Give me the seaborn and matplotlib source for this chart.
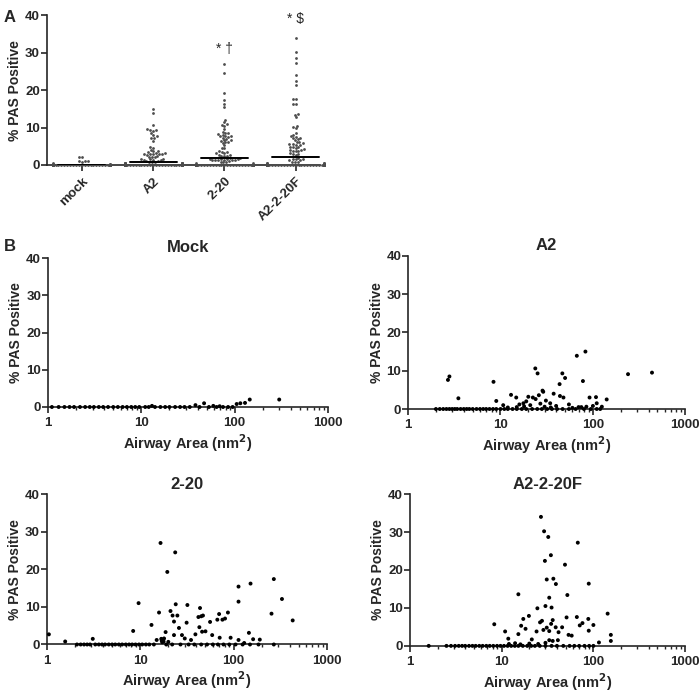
import warnings
import numpy as np
import pandas as pd
import matplotlib
matplotlib.use("Agg")
import matplotlib.pyplot as plt
from matplotlib.ticker import LogLocator, FixedLocator, NullFormatter
import seaborn as sns

warnings.filterwarnings("ignore")

# ---- data ----
groups = ["mock", "A2", "2-20", "A2-2-20F"]
titles = ["Mock", "A2", "2-20", "A2-2-20F"]
medians = [0.1, 0.8, 1.8, 2.1]

mock_area = [13, 38, 47, 59, 69, 105, 115, 129, 145, 300]
mock_pas = [0.3, 0.5, 1.0, 0.3, 0.2, 0.8, 1.0, 1.1, 2.0, 2.0]
mock_zero_area = [1.1, 1.3, 1.5, 1.7, 1.9, 2.2, 2.5, 2.8, 3.1, 3.5, 3.9, 4.4, 5.0,
                  5.6, 6.3, 7.0, 7.8, 8.6, 9.5, 11, 12, 14, 16, 18, 20, 23, 26,
                  29, 33, 42, 53, 64, 75, 85, 95]

a2_area = [2.7, 2.8, 3.5, 8.4, 9, 10.7, 12, 13, 14.8, 15, 16, 17.7, 18, 19, 20, 21,
           22.4, 23.8, 24, 25.2, 26, 27, 28.5, 29, 30, 31, 34.5, 35, 37.6, 40, 43.6,
           44, 46.7, 48, 50, 55, 60, 67, 70, 75, 78, 83, 85, 92, 100, 108, 110, 125,
           141, 240, 436]
a2_pas = [7.6, 8.5, 2.8, 7.1, 2.1, 1.0, 0.4, 3.7, 3.0, 0.5, 1.2, 1.5, 0.7, 2.0, 3.2, 1.0,
          3.0, 10.6, 2.6, 9.3, 3.6, 1.4, 4.8, 4.5, 0.6, 2.2, 1.5, 0.4, 4.0, 0.8, 6.5,
          3.4, 9.3, 3.0, 8.1, 1.2, 0.3, 13.9, 0.5, 0.5, 7.3, 15.0, 0.6, 3.0, 0.8, 3.1,
          1.5, 0.6, 2.5, 9.1, 9.5]
a2_zero_area = [2.0, 2.2, 2.4, 2.6, 2.8, 3.0, 3.2, 3.4, 3.7, 4.0, 4.3, 4.6, 5.0, 5.5,
                6.0, 6.5, 7.0, 7.6, 8.3, 9.0, 10, 11, 12, 13.5, 15, 17, 19, 22, 25,
                28, 32, 36, 41, 47, 55, 65, 80, 95, 110, 120]

s220_area = [1.05, 1.57, 3.1, 8.4, 9.6, 13.2, 15, 15.9, 16.5, 16.8, 17, 17.2, 17.5,
             17.8, 18, 18.7, 19.5, 20, 21.1, 22.2, 23, 23, 23.7, 24, 25, 26, 28, 30,
             31.4, 32, 35, 39, 42, 43, 43.7, 45, 46, 47, 50, 56, 59, 67, 70, 71, 76,
             81, 87, 93, 113, 113, 113, 130, 146, 152, 162, 191, 255, 270, 330, 430]
s220_pas = [2.7, 0.8, 1.5, 3.6, 11.0, 5.2, 1.2, 8.5, 27.0, 1.5, 1.0, 0.6, 1.3, 0.8,
            1.6, 3.3, 19.3, 0.7, 8.9, 7.7, 6.1, 2.5, 24.5, 10.7, 7.7, 4.4, 2.5, 1.6,
            5.8, 10.5, 1.2, 2.7, 7.3, 4.6, 9.7, 7.5, 3.4, 7.7, 3.5, 6.0, 2.5, 6.6,
            8.1, 1.8, 6.6, 6.9, 8.5, 1.8, 15.4, 11.4, 1.2, 0.4, 3.1, 16.2, 1.4, 1.3,
            8.2, 17.4, 12.1, 6.4]
s220_zero_area = [2.1, 2.3, 2.5, 2.7, 2.9, 3.3, 3.6, 3.9, 4.2, 4.6, 5.0, 5.4, 5.9,
                  6.4, 7.0, 7.6, 8.2, 8.9, 9.7, 10.5, 11.5, 12.5, 14, 19, 22, 27,
                  33, 38, 45, 52, 60, 68, 78, 90, 105, 125, 150, 185, 270]

f_area = [26.8, 29, 32.2, 34.4, 29.6, 49, 67.6, 31, 36.6, 39, 89, 15.2, 33, 52, 24.5,
          30, 35, 8.3, 10.9, 11.8, 15.2, 16.3, 17.2, 18.2, 19.8, 21.3, 24, 26.2,
          27.5, 28.5, 31, 33, 34.6, 36, 33, 38.8, 41.7, 41, 45.6, 51, 53.6, 58, 66,
          71, 76, 88, 89, 100, 115, 143, 155, 155, 12, 14, 16, 20, 25, 36, 30]
f_pas = [34.0, 30.2, 28.7, 23.9, 22.4, 21.4, 27.2, 17.5, 17.7, 16.3, 16.4, 13.6, 12.7,
         13.4, 9.9, 10.5, 10.1, 5.7, 3.8, 1.9, 3.1, 5.3, 7.1, 4.5, 7.9, 1.7, 3.8, 6.2,
         6.6, 4.2, 4.8, 3.9, 5.8, 6.8, 1.5, 4.9, 3.6, 1.5, 4.9, 7.5, 2.9, 2.7, 7.6,
         5.4, 6.0, 7.1, 4.0, 5.5, 0.9, 8.5, 2.9, 1.3, 0.5, 0.7, 0.4, 0.6, 0.5, 1.3, 0.8]
f_zero_area = [1.6, 2.5, 2.8, 3.1, 3.4, 3.7, 4.0, 4.4, 4.8, 5.2, 5.7, 6.2, 6.8, 7.4,
               8.1, 8.9, 9.7, 10.6, 11.6, 12.7, 13.9, 15.2, 17, 19, 21, 23, 26, 30,
               35, 40, 47, 55, 62, 70, 80, 90, 100]

sig_labels = ["", "", "* \u2020", "* $"]
sig_y = [0, 0, 29, 37]

# ---- assemble tables ----
raw = {
    "mock": (mock_area, mock_pas, mock_zero_area),
    "A2": (a2_area, a2_pas, a2_zero_area),
    "2-20": (s220_area, s220_pas, s220_zero_area),
    "A2-2-20F": (f_area, f_pas, f_zero_area),
}
frames = []
for g in groups:
    area, pas, zeros = raw[g]
    d = pd.DataFrame({"area": list(area) + list(zeros),
                      "pas": list(pas) + [0.0] * len(zeros)})
    d["group"] = g
    frames.append(d)
df = pd.concat(frames, ignore_index=True)

sns.set_style("ticks")
plt.rcParams["font.family"] = ["Liberation Sans", "DejaVu Sans"]
plt.rcParams["font.weight"] = "bold"
plt.rcParams["axes.labelweight"] = "bold"
plt.rcParams["axes.linewidth"] = 1.2

fig = plt.figure(figsize=(7, 6.93), dpi=100)

tick_fs = 9.5
lab_fs = 10.5


def style_y(ax):
    ax.set_ylim(0, 40)
    ax.set_yticks([0, 10, 20, 30, 40])
    ax.tick_params(axis="y", labelsize=tick_fs, width=1.2, length=4, pad=1)
    ax.set_ylabel("% PAS Positive", fontsize=10, labelpad=2)
    for lab in ax.get_yticklabels():
        lab.set_fontweight("bold")
    sns.despine(ax=ax)


# ---- panel A ----
axA = fig.add_axes([0.067, 0.762, 0.39, 0.216])
sns.swarmplot(data=df, x="group", y="pas", order=groups, color="0.3",
              size=2.0, ax=axA, clip_on=False, zorder=3)
for i, m in enumerate(medians):
    axA.plot([i - 0.33, i + 0.33], [m, m], color="black", lw=1.4, zorder=4)
for i, (t, yv) in enumerate(zip(sig_labels, sig_y)):
    if t:
        axA.text(i, yv, t, ha="center", va="bottom", fontsize=10, fontweight="normal")
axA.set_xlim(-0.49, 3.34)
axA.set_xlabel("")
style_y(axA)
axA.tick_params(axis="x", labelsize=tick_fs, width=1.2, length=4)
axA.set_xticks(range(len(groups)))
axA.set_xticklabels(groups, rotation=45, ha="right", rotation_mode="anchor",
                    fontweight="bold")

# ---- panel B ----
positions = [
    [0.0686, 0.4127, 0.40, 0.215],
    [0.583, 0.4098, 0.396, 0.221],
    [0.067, 0.0700, 0.40, 0.217],
    [0.5857, 0.0680, 0.393, 0.219],
]
for g, t, pos in zip(groups, titles, positions):
    ax = fig.add_axes(pos)
    sub = df[df["group"] == g]
    sns.scatterplot(data=sub, x="area", y="pas", color="black", s=8,
                    edgecolor="none", ax=ax, clip_on=False, zorder=3)
    ax.set_xscale("log")
    ax.set_xlim(1, 1000)
    ax.xaxis.set_major_locator(FixedLocator([1, 10, 100, 1000]))
    ax.xaxis.set_minor_locator(LogLocator(base=10, subs=np.arange(2, 10)))
    ax.xaxis.set_minor_formatter(NullFormatter())
    ax.set_xticklabels(["1", "10", "100", "1000"], fontweight="bold")
    ax.tick_params(axis="x", which="major", labelsize=tick_fs, width=1.2, length=4)
    ax.tick_params(axis="x", which="minor", width=1.0, length=2.5)
    ax.set_xlabel("Airway Area (nm$^\\mathbf{2}$)", fontsize=lab_fs, labelpad=2)
    style_y(ax)
    ax.set_title(t, fontsize=12, fontweight="bold", pad=4)

fig.text(0.005, 0.985, "A", fontsize=12, fontweight="bold", va="top")
fig.text(0.005, 0.655, "B", fontsize=12, fontweight="bold", va="top")

fig.savefig("out.png", dpi=100)
